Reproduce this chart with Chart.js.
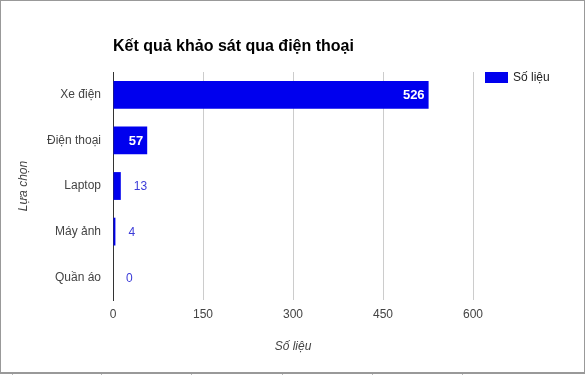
<!DOCTYPE html>
<html>
<head>
<meta charset="utf-8">
<script src="https://cdn.jsdelivr.net/npm/chart.js@4.4.0/dist/chart.umd.min.js"></script>
<style>
  html, body { margin: 0; padding: 0; background: #fff; }
  #wrap { position: relative; width: 585px; height: 375px; }
  #frame { position: absolute; left: 0; top: 0; width: 583px; height: 371px; border: 1px solid #999; border-bottom-width: 2px; box-sizing: content-box; pointer-events: none; }
  canvas { position: absolute; left: 0; top: 0; }
</style>
</head>
<body>
<div id="wrap">
  <canvas id="c" width="585" height="375"></canvas>
  <div id="frame"></div>
</div>
<script>
const chartTitle = 'Kết quả khảo sát qua điện thoại';
const categories = ['Xe điện', 'Điện thoại', 'Laptop', 'Máy ảnh', 'Quần áo'];
const seriesName = 'Số liệu';
const values = [526, 57, 13, 4, 0];
const xTicks = [0, 150, 300, 450, 600];
const xAxisTitle = 'Số liệu';
const yAxisTitle = 'Lựa chọn';

const FONT = '"Liberation Sans", Arial, sans-serif';
const BAR = '#0000ee';

const overlay = {
  id: 'overlay',
  afterDatasetsDraw(chart) {
    const ctx = chart.ctx;
    const area = chart.chartArea;
    ctx.save();
    // data labels
    const meta = chart.getDatasetMeta(0);
    meta.data.forEach((bar, i) => {
      const txt = String(values[i]);
      const w = Math.abs(bar.x - bar.base);
      ctx.font = 'bold 13px ' + FONT;
      const tw = ctx.measureText(txt).width;
      ctx.textBaseline = 'middle';
      if (tw + 10 < w) {
        ctx.fillStyle = '#ffffff';
        ctx.textAlign = 'right';
        ctx.fillText(txt, bar.x - 4, bar.y + 1);
      } else {
        ctx.font = '12px ' + FONT;
        ctx.fillStyle = '#3b3bd8';
        ctx.textAlign = 'left';
        ctx.fillText(txt, bar.x + 13, bar.y + 1);
      }
    });
    // title
    ctx.font = 'bold 16px ' + FONT;
    ctx.fillStyle = '#000';
    ctx.textAlign = 'left';
    ctx.textBaseline = 'alphabetic';
    ctx.fillText(chartTitle, area.left, 51);
    // legend
    ctx.fillStyle = BAR;
    ctx.fillRect(485, 72, 23, 11);
    ctx.font = '12px ' + FONT;
    ctx.fillStyle = '#222';
    ctx.textBaseline = 'middle';
    ctx.fillText(seriesName, 513, 78);
    // small marks below the frame
    ctx.fillStyle = '#bbb';
    [12, 101, 191, 282, 372, 462].forEach(x => ctx.fillRect(x, 373, 1, 2));
    ctx.restore();
  }
};

new Chart(document.getElementById('c'), {
  type: 'bar',
  data: {
    labels: categories,
    datasets: [{
      label: seriesName,
      data: values,
      backgroundColor: BAR,
      borderWidth: 0,
      barPercentage: 0.61,
      categoryPercentage: 1.0
    }]
  },
  options: {
    indexAxis: 'y',
    responsive: false,
    animation: false,
    layout: { padding: { left: 0, top: 72, right: 112, bottom: 0 } },
    plugins: { legend: { display: false }, title: { display: false }, tooltip: { enabled: false } },
    scales: {
      x: {
        min: 0, max: 600,
        afterBuildTicks(scale) { scale.ticks = xTicks.map(v => ({ value: v })); },
        afterFit(scale) { scale.height = 75; },
        grid: { color: '#cccccc', drawTicks: false, lineWidth: 1 },
        border: { display: false },
        ticks: { padding: 7, color: '#444', font: { family: FONT, size: 12 } },
        title: { display: true, text: xAxisTitle, color: '#444', font: { family: FONT, size: 12, style: 'italic' }, padding: { top: 0, bottom: 21 } }
      },
      y: {
        afterFit(scale) { scale.width = 113; },
        grid: { display: false, drawTicks: false },
        border: { display: true, color: '#333333', width: 1 },
        ticks: { padding: 12, color: '#444', font: { family: FONT, size: 12 } },
        title: { display: true, text: yAxisTitle, color: '#444', font: { family: FONT, size: 12, style: 'italic' }, padding: { top: 16, bottom: 0 } }
      }
    }
  },
  plugins: [overlay]
});
</script>
</body>
</html>
